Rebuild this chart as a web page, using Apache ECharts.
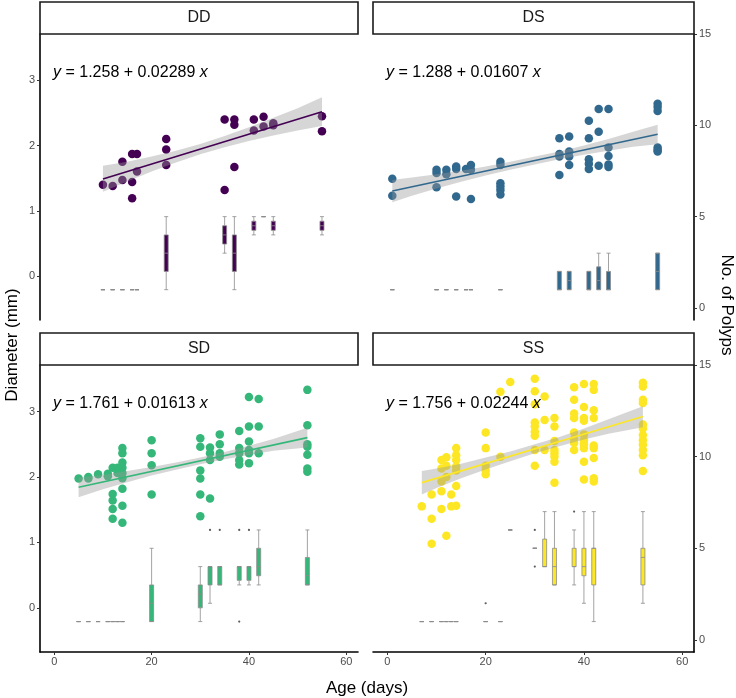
<!DOCTYPE html>
<html><head><meta charset="utf-8">
<script src="https://cdn.jsdelivr.net/npm/echarts@6/dist/echarts.min.js"></script>
<style>html,body{margin:0;padding:0;background:#fff}#c{width:736px;height:698px}</style>
</head><body><div id="c"></div>
<script>
// ---------- data ----------
const panelNames = ['DD', 'DS', 'SD', 'SS'];
const panelColors = ['#440154', '#31688E', '#35B779', '#FDE725'];
const equationTexts = [
  ['1.258', '0.02289'],
  ['1.288', '0.01607'],
  ['1.761', '0.01613'],
  ['1.756', '0.02244']
];
const xTicks = [0, 20, 40, 60];
const diameterTicks = [0, 1, 2, 3];
const polypTicks = [0, 5, 10, 15];

// scatter: [age (days), diameter (mm)]
const ddPoints = [[10,1.40],[12,1.38],[14,1.75],[14,1.47],[16,1.87],[16,1.44],[16,1.19],[17,1.87],[17,1.60],[23,2.10],[23,1.94],[23,1.70],[35,2.40],[35,1.32],[37,2.40],[37,2.32],[37,1.67],[41,2.40],[41,2.23],[43,2.44],[43,2.29],[45,2.34],[45,2.31],[55,2.45],[55,2.22]];
const dsPoints = [[1,1.49],[1,1.23],[10,1.63],[10,1.58],[10,1.36],[12,1.63],[12,1.56],[14,1.68],[14,1.64],[14,1.22],[16,1.64],[17,1.70],[17,1.63],[17,1.18],[23,1.75],[23,1.70],[23,1.42],[23,1.37],[23,1.32],[23,1.25],[35,2.11],[35,1.87],[35,1.83],[35,1.55],[37,2.14],[37,1.91],[37,1.83],[37,1.70],[41,2.38],[41,2.11],[41,1.79],[41,1.72],[41,1.64],[43,2.56],[43,2.21],[43,1.69],[45,2.56],[45,1.97],[45,1.84],[45,1.71],[45,1.67],[55,2.64],[55,2.59],[55,2.53],[55,1.97],[55,1.93],[55,1.91]];
const sdPoints = [[5,1.975],[7,2.0],[7,1.975],[9,2.04],[11,2.05],[11,2.01],[12,2.14],[12,1.74],[12,1.64],[12,1.51],[12,1.36],[13,2.14],[13,2.06],[14,2.44],[14,2.36],[14,2.22],[14,2.14],[14,2.06],[14,1.98],[14,1.82],[14,1.56],[14,1.30],[20,2.56],[20,2.36],[20,2.18],[20,1.73],[30,2.59],[30,2.46],[30,2.10],[30,1.975],[30,1.73],[30,1.40],[32,2.45],[32,2.36],[32,2.26],[32,1.67],[34,2.65],[34,2.50],[34,2.36],[34,2.31],[38,2.70],[38,2.44],[38,2.36],[38,2.26],[38,2.19],[40,3.22],[40,2.77],[40,2.54],[40,2.41],[40,2.36],[40,2.21],[42,3.19],[42,2.77],[42,2.36],[52,3.33],[52,2.79],[52,2.50],[52,2.46],[52,2.34],[52,2.13],[52,2.08]];
const ssPoints = [[7,1.55],[9,1.73],[9,1.36],[9,0.98],[11,2.26],[11,2.13],[11,1.93],[11,1.78],[11,1.51],[12,2.30],[12,2.17],[12,2.0],[12,1.10],[13,1.73],[13,1.55],[14,2.44],[14,2.33],[14,2.26],[14,2.16],[14,2.10],[14,1.86],[14,1.56],[20,2.68],[20,2.44],[20,2.17],[20,2.10],[20,2.04],[23,3.30],[23,2.31],[25,3.45],[30,3.50],[30,3.31],[30,3.11],[30,2.83],[30,2.77],[30,2.69],[30,2.63],[30,2.41],[30,2.17],[32,3.23],[32,2.87],[32,2.41],[34,2.90],[34,2.77],[34,2.55],[34,2.41],[34,2.36],[34,2.31],[34,2.23],[34,1.91],[38,3.37],[38,3.18],[38,2.97],[38,2.90],[38,2.68],[38,2.58],[38,2.52],[38,2.41],[40,3.42],[40,3.07],[40,2.90],[40,2.86],[40,2.65],[40,2.56],[40,2.50],[40,2.44],[40,2.23],[40,1.96],[42,3.42],[42,3.33],[42,3.02],[42,2.90],[42,2.48],[42,2.44],[42,2.29],[42,1.98],[42,1.93],[52,3.44],[52,3.38],[52,3.18],[52,3.13],[52,2.80],[52,2.74],[52,2.64],[52,2.56],[52,2.49],[52,2.41],[52,2.33],[52,2.09]];

// fitted line end points: [age, diameter]
const ddFit = [[10,1.487],[55,2.517]];
const dsFit = [[1,1.304],[55,2.172]];
const sdFit = [[5,1.842],[52,2.600]];
const ssFit = [[7,1.913],[52,2.923]];

// confidence band: [age, lower, upper]
const ddBand = [[10,1.29,1.69],[15,1.45,1.75],[20,1.60,1.83],[25,1.74,1.92],[30,1.865,2.025],[35,1.975,2.145],[40,2.07,2.28],[45,2.155,2.425],[50,2.23,2.57],[55,2.30,2.74]];
const dsBand = [[1,1.13,1.47],[5,1.23,1.51],[10,1.34,1.56],[15,1.445,1.615],[20,1.54,1.68],[25,1.63,1.75],[30,1.71,1.83],[35,1.79,1.91],[40,1.86,2.00],[45,1.92,2.10],[50,1.98,2.21],[55,2.02,2.32]];
const sdBand = [[5,1.69,1.99],[10,1.81,2.03],[15,1.92,2.09],[20,2.02,2.15],[25,2.11,2.22],[30,2.195,2.295],[35,2.27,2.38],[40,2.336,2.476],[45,2.40,2.58],[52,2.45,2.75]];
const ssBand = [[7,1.73,2.09],[10,1.83,2.13],[15,1.98,2.20],[20,2.115,2.295],[25,2.24,2.39],[30,2.36,2.50],[35,2.47,2.61],[40,2.57,2.74],[45,2.66,2.88],[52,2.76,3.08]];

// polyp boxplots: [age, min, Q1, median, Q3, max]
const ddBoxes = [[10,1,1,1,1,1],[12,1,1,1,1,1],[14,1,1,1,1,1],[16,1,1,1,1,1],[17,1,1,1,1,1],[23,1,2,3,4,5],[35,3,3.5,4,4.5,5],[37,1,2,3,4,5],[41,4,4.25,4.5,4.75,5],[43,5,5,5,5,5],[45,4,4.25,4.5,4.75,5],[55,4,4.25,4.5,4.75,5]];
const dsBoxes = [[1,1,1,1,1,1],[10,1,1,1,1,1],[12,1,1,1,1,1],[14,1,1,1,1,1],[16,1,1,1,1,1],[17,1,1,1,1,1],[23,1,1,1,1,1],[35,1,1,1,2,2],[37,1,1,1.5,2,2],[41,1,1,1,2,2],[43,1,1,1.5,2.25,3],[45,1,1,1,2,3],[55,1,1,2,3,3]];
const sdBoxes = [[5,1,1,1,1,1],[7,1,1,1,1,1],[9,1,1,1,1,1],[11,1,1,1,1,1],[12,1,1,1,1,1],[13,1,1,1,1,1],[14,1,1,1,1,1],[20,1,1,2,3,5],[30,1,1.75,2.5,3,4],[32,2,3,4,4,4],[34,3,3,4,4,4],[38,3,3.25,4,4,4],[40,3,3.25,4,4,4],[42,3,3.5,4,5,6],[52,3,3,3.5,4.5,6]];
const ssBoxes = [[7,1,1,1,1,1],[9,1,1,1,1,1],[11,1,1,1,1,1],[12,1,1,1,1,1],[13,1,1,1,1,1],[14,1,1,1,1,1],[20,1,1,1,1,1],[23,1,1,1,1,1],[25,6,6,6,6,6],[30,5,5,5,5,5],[32,4,4,4,5.5,7],[34,3,3,4,5,7],[38,3,4,4,5,6],[40,2,3.5,4,5,7],[42,1,3,5,5,7],[52,2,3,4.5,5,7]];

// polyp outliers: [age, polyps]
const ddOutliers = [];
const dsOutliers = [];
const sdOutliers = [[32,6],[34,6],[38,6],[40,6],[38,1]];
const ssOutliers = [[20,2],[30,6],[30,4],[38,7]];

const allPoints = [ddPoints, dsPoints, sdPoints, ssPoints];
const allFits = [ddFit, dsFit, sdFit, ssFit];
const allBands = [ddBand, dsBand, sdBand, ssBand];
const allBoxes = [ddBoxes, dsBoxes, sdBoxes, ssBoxes];
const allOutliers = [ddOutliers, dsOutliers, sdOutliers, ssOutliers];

// ---------- layout ----------
const FONT = 'Liberation Sans, Arial, sans-serif';
const grids = [
  {left: 40, top: 34, width: 318, height: 286},
  {left: 373, top: 34, width: 321, height: 286},
  {left: 40, top: 365, width: 318, height: 287},
  {left: 373, top: 365, width: 321, height: 287}
];
const XMIN = -2.93, XMAX = 62.4;
const DMIN = -0.675, DMAX = 3.71;
const PMIN = -0.66, PMAX = 15;

const xAxes = [], yAxes = [], series = [], graphics = [];
grids.forEach((g, i) => {
  const bottomRow = i >= 2;
  const leftCol = i % 2 === 0;
  xAxes.push({
    type: 'value', gridIndex: i, min: XMIN, max: XMAX, show: bottomRow,
    axisLine: {show: true, onZero: false, lineStyle: {color: '#000', width: 1.6}},
    axisTick: {show: true, length: 3, customValues: xTicks, lineStyle: {color: '#333', width: 1}},
    axisLabel: {customValues: xTicks, color: '#4d4d4d', fontSize: 11, fontFamily: FONT, margin: 4},
    splitLine: {show: false}
  });
  yAxes.push({
    type: 'value', gridIndex: i, min: DMIN, max: DMAX, position: 'left', show: leftCol,
    axisLine: {show: true, onZero: false, lineStyle: {color: '#000', width: 1.6}},
    axisTick: {show: true, length: 3, customValues: diameterTicks, lineStyle: {color: '#333', width: 1}},
    axisLabel: {customValues: diameterTicks, color: '#4d4d4d', fontSize: 11, fontFamily: FONT, margin: 5},
    splitLine: {show: false}
  });
  yAxes.push({
    type: 'value', gridIndex: i, min: PMIN, max: PMAX, position: 'right', show: !leftCol,
    axisLine: {show: true, onZero: false, lineStyle: {color: '#000', width: 1.6}},
    axisTick: {show: true, length: 3, customValues: polypTicks, lineStyle: {color: '#333', width: 1}},
    axisLabel: {customValues: polypTicks, color: '#4d4d4d', fontSize: 11, fontFamily: FONT, margin: 5},
    splitLine: {show: false}
  });
  const col = panelColors[i];
  series.push({
    type: 'scatter', xAxisIndex: i, yAxisIndex: 2 * i, data: allPoints[i],
    symbolSize: 8.5, itemStyle: {color: col, opacity: 1}, z: 1, silent: true
  });
  const band = allBands[i];
  series.push({
    type: 'custom', xAxisIndex: i, yAxisIndex: 2 * i, data: band, z: 2, silent: true,
    renderItem: function (params, api) {
      if (params.dataIndex !== 0) return null;
      const pts = [];
      band.forEach(r => pts.push(api.coord([r[0], r[2]])));
      band.slice().reverse().forEach(r => pts.push(api.coord([r[0], r[1]])));
      return {type: 'polygon', shape: {points: pts}, style: {fill: 'rgba(153,153,153,0.4)'}};
    }
  });
  series.push({
    type: 'line', xAxisIndex: i, yAxisIndex: 2 * i, data: allFits[i], showSymbol: false,
    lineStyle: {color: col, width: 1.6}, z: 3, silent: true
  });
  series.push({
    type: 'boxplot', xAxisIndex: i, yAxisIndex: 2 * i + 1, data: allBoxes[i],
    boxWidth: [4, 4], itemStyle: {color: col, borderColor: '#8c8c8c', borderWidth: 0.8}, z: 4, silent: true
  });
  series.push({
    type: 'scatter', xAxisIndex: i, yAxisIndex: 2 * i + 1, data: allOutliers[i],
    symbolSize: 2.2, itemStyle: {color: '#333'}, z: 5, silent: true
  });
  // strip
  graphics.push({
    type: 'rect', shape: {x: g.left, y: g.top - 32, width: g.width, height: 32},
    style: {fill: '#fff', stroke: '#1a1a1a', lineWidth: 1.6}, z: 10
  });
  graphics.push({
    type: 'text', x: g.left + g.width / 2, y: g.top - 16, z: 11,
    style: {text: panelNames[i], fill: '#1a1a1a', font: '16px ' + FONT, align: 'center', verticalAlign: 'middle'}
  });
  // equation
  graphics.push({
    type: 'text', x: g.left + 13, y: g.top + 39, z: 11,
    style: {
      text: '{i|y} = ' + equationTexts[i][0] + ' + ' + equationTexts[i][1] + ' {i|x}',
      fill: '#000', font: '16px ' + FONT, verticalAlign: 'middle',
      rich: {i: {fontStyle: 'italic', fontSize: 16, fontFamily: FONT, fill: '#000'}}
    }
  });
});

graphics.push({type: 'text', x: 367, y: 688, style: {text: 'Age (days)', fill: '#000', font: '17px ' + FONT, align: 'center', verticalAlign: 'middle'}});
graphics.push({type: 'text', x: 12, y: 345, rotation: Math.PI / 2, style: {text: 'Diameter (mm)', fill: '#000', font: '17px ' + FONT, align: 'center', verticalAlign: 'middle'}});
graphics.push({type: 'text', x: 727, y: 305, rotation: -Math.PI / 2, style: {text: 'No. of Polyps', fill: '#000', font: '17px ' + FONT, align: 'center', verticalAlign: 'middle'}});

const chart = echarts.init(document.getElementById('c'), null, {renderer: 'canvas'});
chart.setOption({
  animation: false,
  backgroundColor: '#fff',
  grid: grids,
  xAxis: xAxes,
  yAxis: yAxes,
  series: series,
  graphic: graphics
});
</script>
</body></html>
